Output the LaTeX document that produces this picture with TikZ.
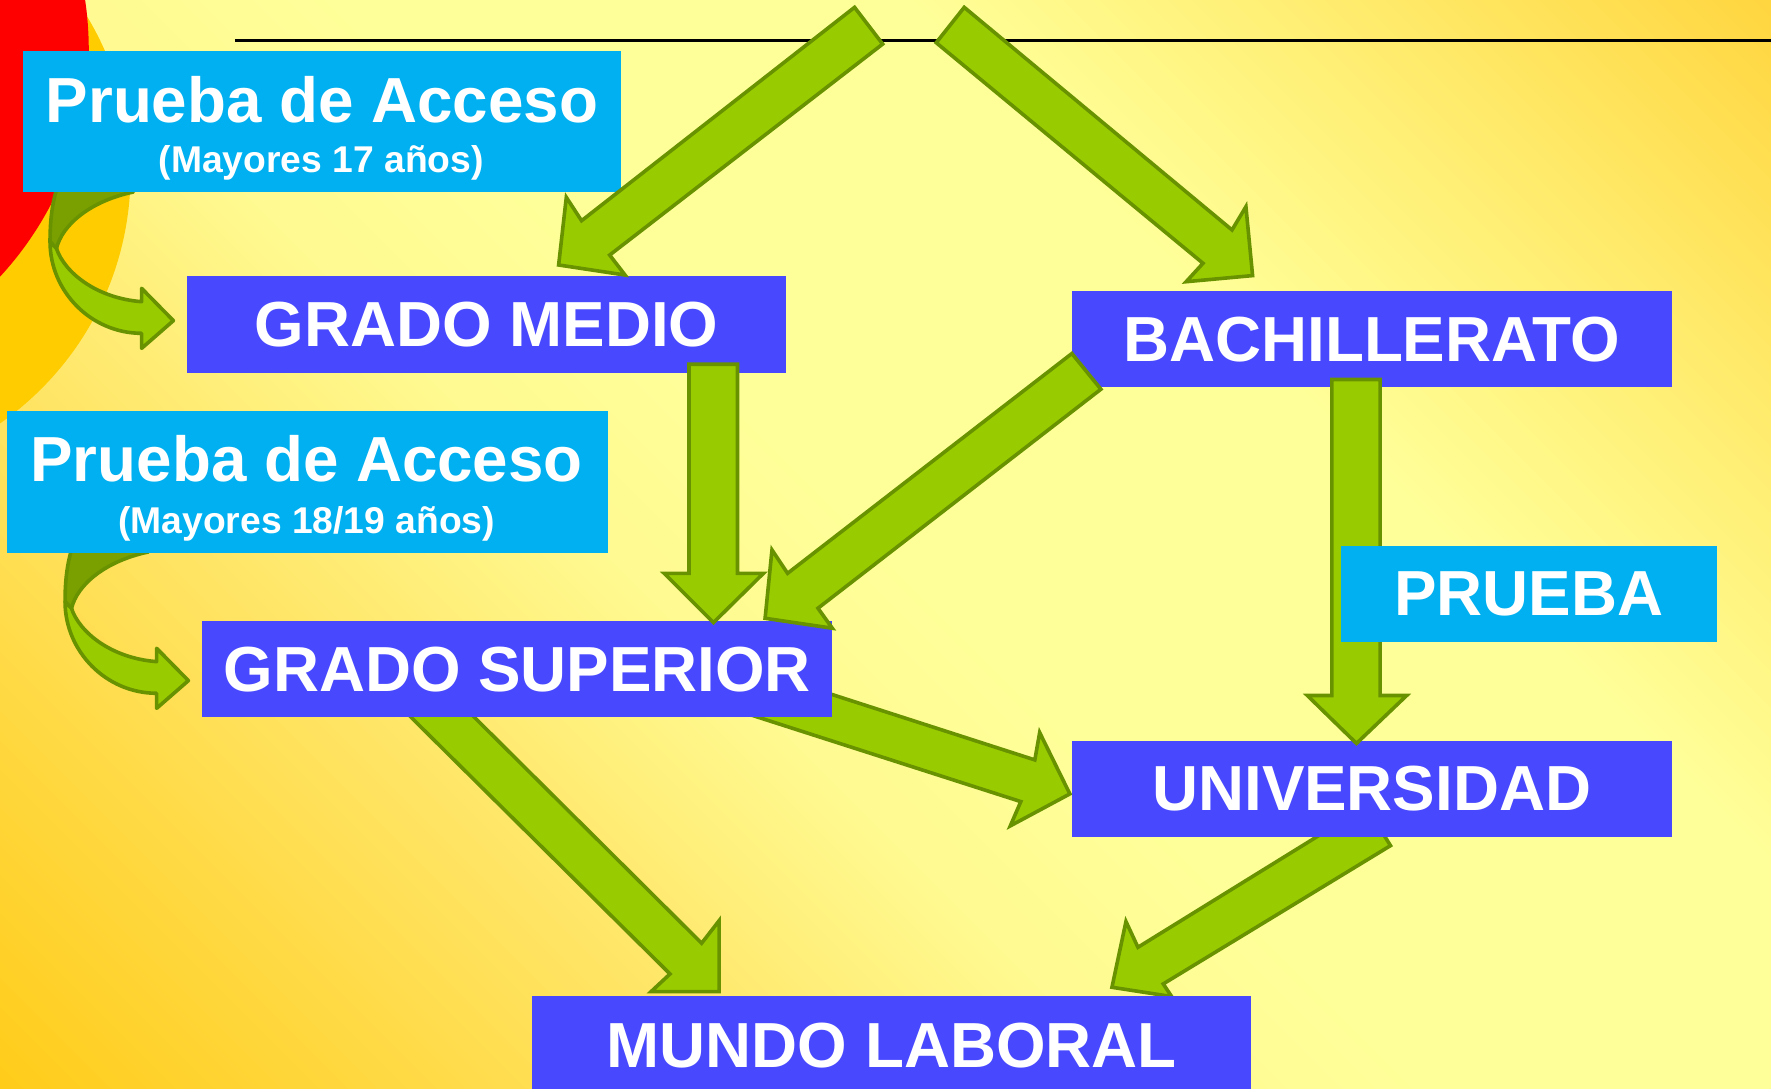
\documentclass[tikz,border=0pt]{standalone}
\usepackage{fontspec}
\setmainfont{Liberation Sans}
\definecolor{bgA}{RGB}{255,204,26}
\definecolor{bgB}{RGB}{255,228,100}
\definecolor{bgC}{RGB}{255,250,145}
\definecolor{bgP}{RGB}{255,255,153}
\definecolor{bgD}{RGB}{255,236,110}
\definecolor{bgE}{RGB}{255,214,64}
\definecolor{redc}{RGB}{255,0,0}
\definecolor{goldc}{RGB}{255,204,0}
\definecolor{agreen}{RGB}{153,204,0}
\definecolor{aoutline}{RGB}{104,146,0}
\definecolor{aback}{RGB}{122,160,0}
\definecolor{boxblue}{RGB}{72,72,255}
\definecolor{boxcyan}{RGB}{0,176,240}
\pgfdeclarehorizontalshading{bgshade}{100bp}{color(0bp)=(bgA); color(14.64bp)=(bgA); color(32.3bp)=(bgB); color(42.9bp)=(bgC); color(50bp)=(bgP); color(64.1bp)=(bgP); color(74.75bp)=(bgD); color(85.36bp)=(bgE); color(100bp)=(bgE)}
\newcommand\bigfont{\fontsize{28.2}{34}\selectfont\bfseries}
\newcommand\subfont{\fontsize{16.5}{19}\selectfont\bfseries}
\tikzset{
  bluebox/.style={fill=boxblue, inner sep=0pt, outer sep=0pt, text=white, font=\bigfont},
  cyanbox/.style={fill=boxcyan, inner sep=0pt, outer sep=0pt, text=white, font=\bigfont},
  bigtext/.style={inner sep=0pt, text=white, font=\bigfont, anchor=base},
  subtext/.style={inner sep=0pt, text=white, font=\subfont, anchor=base},
  blockarrow/.style={fill=agreen, draw=aoutline, line width=1.6pt, line join=miter},
  frontband/.style={fill=agreen, draw=aoutline, line width=1.6pt, line join=round},
  backband/.style={fill=aback, draw=aoutline, line width=1.6pt, line join=round},
  curvarrow/.pic={
    \draw[backband] (51,150) -- (51,165) .. controls (46,180) and (44.3,196) .. (44.3,214)
      -- (50,220) .. controls (55,199) and (80,178) .. (118,170) -- (118,150) -- cycle;
    \draw[frontband] (44.3,214) -- (50,220) .. controls (57,241) and (85,264) .. (125.4,267.1)
      -- (125.4,255.3) -- (153.5,283.9) -- (125.4,308.4) -- (125.4,295.1)
      .. controls (80.6,295.1) and (44.3,258) .. (44.3,214) -- cycle;
  }
}
\begin{document}
\begin{tikzpicture}[x=0.5pt,y=-0.5pt]
\useasboundingbox (0,0) rectangle (1568,964);
\clip (0,0) rectangle (1568,964);
% background
\shade[shading=bgshade, shading angle=45] (0,0) rectangle (1568,964);
\fill[goldc] (-154.1,153.5) circle[radius=269.7];
\fill[redc] (-217.7,44) circle[radius=296.3];
% top rule
\coordinate (ruleL) at (208,36);
\coordinate (ruleR) at (1568,36);
\draw[line width=1.1pt, black] (ruleL) -- (ruleR);

% arrows lying under the boxes
% GRADO SUPERIOR -> UNIVERSIDAD
\draw[blockarrow] (662,590.8) -- (916.2,672.8) -- (920.5,648.6) -- (947.2,702.9)
  -- (894.5,731.2) -- (903.8,709.7) -- (650,628.2) -- cycle;
% GRADO SUPERIOR -> MUNDO LABORAL
\draw[blockarrow] (348.8,620) -- (593.2,862.3) -- (576.5,877.9) -- (636.7,877.9)
  -- (636.7,815.1) -- (621.2,835.1) -- (376.6,591.9) -- cycle;
% UNIVERSIDAD -> MUNDO LABORAL
\draw[blockarrow] (1209.5,713.9) -- (1007.5,838.7) -- (996.9,815.9) -- (984.5,874.1)
  -- (1037.3,882.3) -- (1029.9,871.1) -- (1231.1,748.7) -- cycle;
% curved arrows from the access tests
\pic (ca1) at (0,0) {curvarrow};
\pic (ca2) at (13.3,318.7) {curvarrow};

% boxes
\node[cyanbox, minimum width=265pt, minimum height=62.5pt] (pa1) at (285,107.5) {};
\node[bigtext] (pa1a) at (285,108.5) {Prueba de Acceso};
\node[subtext] (pa1b) at (284.5,152.5) {(Mayores 17 años)};
\node[cyanbox, minimum width=266pt, minimum height=63pt] (pa2) at (272,427) {};
\node[bigtext] (pa2a) at (271.5,426.4) {Prueba de Acceso};
\node[subtext] (pa2b) at (271.5,472) {(Mayores 18/19 años)};
\node[bluebox, minimum width=265pt, minimum height=43pt] (gm) at (431,287) {GRADO MEDIO};
\node[bluebox, minimum width=279pt, minimum height=42.5pt] (gs) at (458,592.5) {GRADO SUPERIOR};
\node[bluebox, minimum width=265.5pt, minimum height=42.5pt] (bach) at (1214.5,300.5) {BACHILLERATO};
\node[bluebox, minimum width=265.5pt, minimum height=42.5pt] (univ) at (1214.5,698.5) {UNIVERSIDAD};
\node[bluebox, minimum width=318.5pt, minimum height=43.5pt] (mundo) at (789.5,925.5) {MUNDO LABORAL};

% arrows lying over the boxes
% top -> GRADO MEDIO
\draw[blockarrow] (756.6,6.5) -- (781.5,39) -- (539.8,225.8) -- (553.4,243.5)
  -- (494.6,234.6) -- (501.4,174.7) -- (514.9,195.4) -- cycle;
% top -> BACHILLERATO
\draw[blockarrow] (853.7,6.5) -- (1090.8,203.6) -- (1103.1,183) -- (1109,244)
  -- (1050.2,249.4) -- (1065.1,233.1) -- (828.9,37.8) -- cycle;
% GRADO MEDIO -> GRADO SUPERIOR
\draw[blockarrow] (610,322.5) -- (653,322.5) -- (653,507.6) -- (675.9,507.6)
  -- (631.7,551.2) -- (588,507.6) -- (610,507.6) -- cycle;
% BACHILLERATO -> GRADO SUPERIOR
\draw[blockarrow] (949,313) -- (974.7,344.6) -- (724.2,538.5) -- (736.9,556.2)
  -- (677.4,547.4) -- (683.5,486.9) -- (697.3,507.6) -- cycle;
% BACHILLERATO -> UNIVERSIDAD
\draw[blockarrow] (1179.2,336) -- (1221.9,336) -- (1221.9,615.8) -- (1245.4,615.8)
  -- (1201,658.2) -- (1157.5,615.8) -- (1179.2,615.8) -- cycle;

% PRUEBA box over the arrow
\node[cyanbox, minimum width=166.5pt, minimum height=42.5pt] (prueba) at (1353.5,525.5) {PRUEBA};
\end{tikzpicture}
\end{document}
